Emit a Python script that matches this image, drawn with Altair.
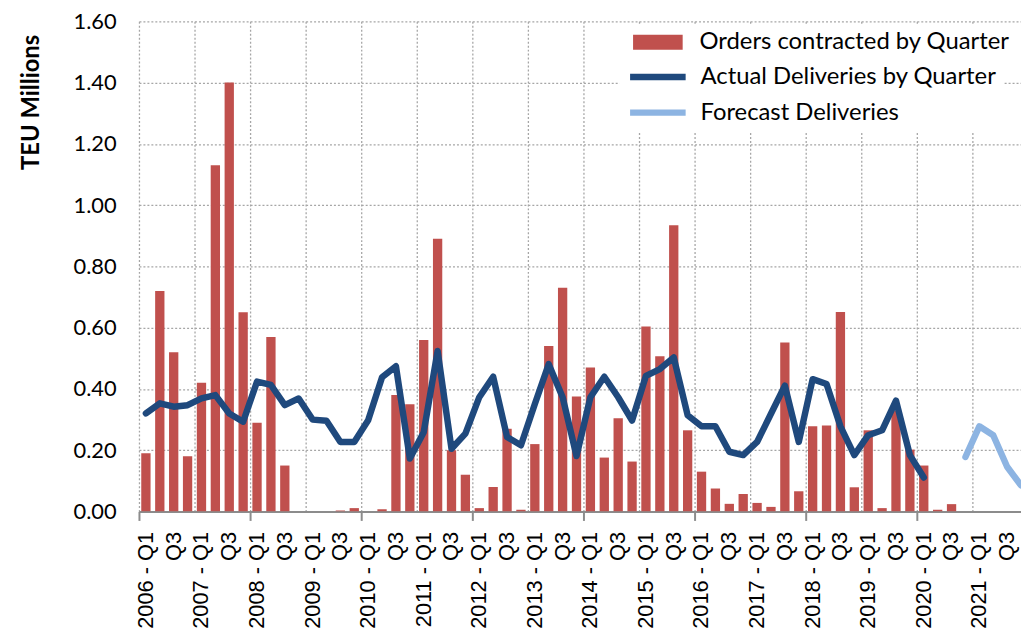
import altair as alt
import pandas as pd

# ---------------- data ----------------
years = list(range(2006, 2022))
quarters = [f"{y} - Q{q}" for y in years for q in range(1, 5)]

orders = [
    0.19, 0.72, 0.52, 0.18,    # 2006
    0.42, 1.13, 1.40, 0.65,    # 2007
    0.29, 0.57, 0.15, 0.0,     # 2008
    0.0, 0.0, 0.003, 0.011,    # 2009
    0.0, 0.007, 0.38, 0.35,    # 2010
    0.56, 0.89, 0.20, 0.12,    # 2011
    0.011, 0.08, 0.27, 0.006,  # 2012
    0.22, 0.54, 0.73, 0.375,   # 2013
    0.47, 0.176, 0.304, 0.163, # 2014
    0.604, 0.507, 0.934, 0.265,# 2015
    0.13, 0.075, 0.025, 0.057, # 2016
    0.028, 0.015, 0.552, 0.066,# 2017
    0.278, 0.281, 0.651, 0.079,# 2018
    0.265, 0.011, 0.33, 0.202, # 2019
    0.15, 0.006, 0.024, 0.0,   # 2020
    0.0, 0.0, 0.0, 0.0,        # 2021
]

actual = [
    0.320, 0.353, 0.342, 0.347,
    0.369, 0.380, 0.320, 0.293,
    0.424, 0.413, 0.347, 0.369,
    0.300, 0.296, 0.227, 0.227,
    0.298, 0.438, 0.474, 0.173,
    0.259, 0.524, 0.205, 0.254,
    0.373, 0.440, 0.243, 0.216,
    0.351, 0.481, 0.373, 0.181,
    0.373, 0.440, 0.373, 0.297,
    0.443, 0.465, 0.503, 0.314,
    0.278, 0.278, 0.195, 0.184,
    0.227, 0.319, 0.411, 0.227,
    0.432, 0.416, 0.278, 0.184,
    0.249, 0.265, 0.362, 0.184,
    0.111,
]
actual_quarters = quarters[:len(actual)]

forecast_quarters = ["2020 - Q4", "2021 - Q1", "2021 - Q2", "2021 - Q3", "2021 - Q4"]
forecast = [0.178, 0.278, 0.249, 0.146, 0.085]

bar_series = ["Orders contracted by Quarter"]
line_series = ["Actual Deliveries by Quarter", "Forecast Deliveries"]
y_ticks = [0.0, 0.2, 0.4, 0.6, 0.8, 1.0, 1.2, 1.4, 1.6]

bars_df = pd.DataFrame({"quarter": quarters, "value": orders, "series": bar_series[0]})
lines_df = pd.concat([
    pd.DataFrame({"quarter": actual_quarters, "value": actual, "series": line_series[0]}),
    pd.DataFrame({"quarter": forecast_quarters, "value": forecast, "series": line_series[1]}),
], ignore_index=True)

# ---------------- styling ----------------
GRID = "#a6a6a6"
AXIS = "#8c8c8c"
LEG_FONT = 24

x_axis = alt.Axis(
    title=None,
    labelAngle=-90, labelAlign="right", labelBaseline="middle",
    labelFont="Liberation Sans", labelFontSize=22, labelColor="black",
    labelPadding=11, labelOverlap=False, labelBound=False, labelFlush=False,
    labelExpr="indexof(datum.value, 'Q1') > 0 ? datum.value : (indexof(datum.value, 'Q3') > 0 ? 'Q3' : '')",
    bandPosition=0,
    ticks=True, tickSize=9, tickWidth=2, tickColor=AXIS,
    tickOpacity={"condition": {"test": "indexof(datum.value, 'Q1') > 0 && toNumber(substring(datum.value, 0, 4)) % 2 == 0", "value": 1}, "value": 0},
    grid=True, gridColor=GRID, gridDash=[2, 2], gridWidth=1.3,
    gridOpacity={"condition": {"test": "indexof(datum.value, 'Q1') > 0", "value": 1}, "value": 0},
    domainColor=AXIS, domainWidth=2,
)

y_axis = alt.Axis(
    title="TEU Millions", titleFont="Lato", titleFontSize=24, titleFontWeight="bold",
    titleColor="black", titleAngle=-90, titleAnchor="end", titleAlign="right",
    titleBaseline="middle", titleX=-108, titleY=13,
    values=y_ticks, format=".2f",
    labelFont="Lato", labelFontSize=22, labelColor="black", labelPadding=23,
    ticks=False, domain=False,
    grid=True, gridColor=GRID, gridDash=[2, 2], gridWidth=1.3,
)

x_enc = alt.X("quarter:N",
              scale=alt.Scale(domain=quarters, range=[0, 896], paddingInner=0, paddingOuter=0),
              axis=x_axis)
y_enc = alt.Y("value:Q", scale=alt.Scale(domain=[0, 1.6], nice=False, zero=True), axis=y_axis)

bars = alt.Chart(bars_df).mark_bar(width=alt.RelativeBandSize(0.67), clip=True).encode(
    x=x_enc, y=y_enc,
    color=alt.Color("series:N",
                    scale=alt.Scale(domain=bar_series, range=["#C0504D"]),
                    legend=alt.Legend(
                        title=None, orient="none", legendX=487, legendY=3,
                        symbolType="M-3.333,-1H3.333V1H-3.333Z", symbolSize=225,
                        symbolOffset=18,
                        symbolStrokeWidth=0, symbolOpacity=1,
                        labelFont="Lato", labelFontSize=LEG_FONT, labelColor="black",
                        labelOffset=30, labelLimit=400,
                        fillColor="white", padding=6,
                    )),
)

lines = alt.Chart(lines_df).mark_line(strokeWidth=6.5, strokeCap="round", strokeJoin="round", clip=True).encode(
    x=x_enc, y=y_enc,
    stroke=alt.Stroke("series:N",
                      scale=alt.Scale(domain=line_series, range=["#1F497D", "#8DB4E2"]),
                      legend=alt.Legend(
                          title=None, orient="none", legendX=484, legendY=38,
                          symbolType="M-3.733,0H3.733", symbolSize=225, symbolStrokeWidth=6.5,
                          symbolOffset=21,
                          labelFont="Lato", labelFontSize=LEG_FONT, labelColor="black",
                          labelOffset=31, labelLimit=400, rowPadding=10,
                          fillColor="white", padding=6,
                      )),
)

chart = alt.layer(bars, lines).resolve_scale(color="independent").properties(
    width=889, height=494,
    autosize=alt.AutoSizeParams(type="none"),
    padding={"left": 132, "top": 11, "right": 0, "bottom": 119},
    background="white",
).configure_view(stroke=None)

chart.save("out.html", embed_options={"renderer": "svg", "actions": False})
